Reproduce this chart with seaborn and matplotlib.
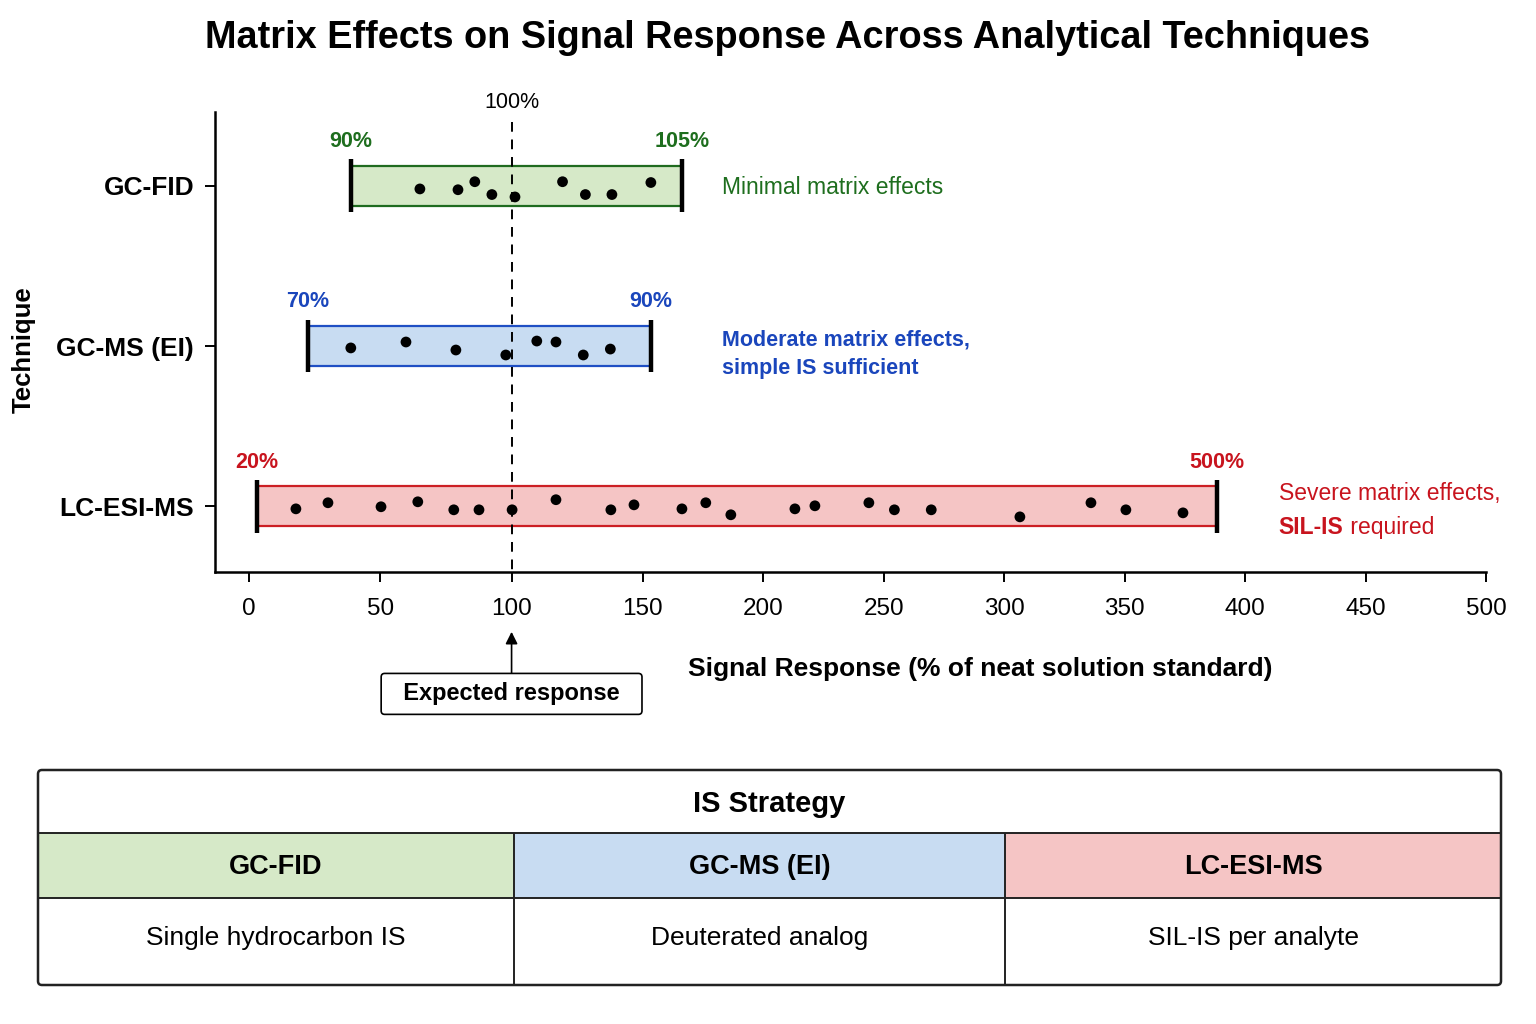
import numpy as np
import pandas as pd
import matplotlib
matplotlib.use("Agg")
import matplotlib.pyplot as plt
import seaborn as sns
from matplotlib.patches import Rectangle, FancyBboxPatch
from matplotlib import font_manager

# ---------------- data ----------------
techniques = ["GC-FID", "GC-MS (EI)", "LC-ESI-MS"]
range_low = [38.8, 22.5, 3.0]
range_high = [166.2, 153.3, 388.3]
range_low_labels = ["90%", "70%", "20%"]
range_high_labels = ["105%", "90%", "500%"]
notes = ["Minimal matrix effects",
         "Moderate matrix effects,\nsimple IS sufficient",
         "Severe matrix effects,"]
note_bold_part = "SIL-IS"
note_rest_part = " required"

gcfid_points = [65.1, 79.6, 86.0, 92.5, 101.3, 119.4, 128.1, 138.2, 153.3]
gcfid_jitter = [0.02, 0.025, -0.025, 0.055, 0.07, -0.025, 0.055, 0.055, -0.02]
gcms_points = [38.8, 59.8, 78.8, 97.8, 109.6, 116.9, 127.3, 137.6]
gcms_jitter = [0.012, -0.025, 0.025, 0.056, -0.031, -0.025, 0.056, 0.019]
lcms_points = [17.9, 30.1, 50.3, 64.3, 78.0, 87.6, 100.2, 116.9, 137.8, 146.6, 166.2,
               176.1, 186.5, 213.1, 221.4, 243.8, 254.4, 269.7, 306.5, 336.0, 350.5, 374.2]
lcms_jitter = [0.016, -0.022, 0.003, -0.028, 0.022, 0.022, 0.022, -0.041, 0.022, -0.009, 0.016,
               -0.022, 0.053, 0.016, -0.003, -0.022, 0.022, 0.022, 0.066, -0.022, 0.022, 0.041]

expected_value = 100
expected_label = "100%"
x_ticks = [0, 50, 100, 150, 200, 250, 300, 350, 400, 450, 500]

table_title = "IS Strategy"
strategies = ["Single hydrocarbon IS", "Deuterated analog", "SIL-IS per analyte"]

# ---------------- style ----------------
fills = ["#d6e9c8", "#c8dcf2", "#f5c5c5"]
edges = ["#1f6b1f", "#1f4fc4", "#cc1f24"]
text_cols = ["#1e6e1e", "#1a46bc", "#c8141e"]

sns.set_theme(style="white")
avail = {f.name for f in font_manager.fontManager.ttflist}
fam = [f for f in ["Liberation Sans", "DejaVu Sans"] if f in avail]
plt.rcParams["font.family"] = fam
plt.rcParams["text.color"] = "black"
plt.rcParams["axes.labelcolor"] = "black"
plt.rcParams["xtick.color"] = "black"
plt.rcParams["ytick.color"] = "black"

fig = plt.figure(figsize=(15.36, 10.24), dpi=100)
ax = fig.add_axes([215 / 1536, 1 - 572 / 1024, (1486 - 215) / 1536, (572 - 112) / 1024])

# piecewise-linear x scale as in the reference
A = 131.33 / 50.0
B = 843.0 / 350.0
def fwd(x):
    x = np.asarray(x, dtype=float)
    return np.where(x <= 150, x * A, 150 * A + (x - 150) * B)
def inv(y):
    y = np.asarray(y, dtype=float)
    return np.where(y <= 150 * A, y / A, 150 + (y - 150 * A) / B)
ax.set_xscale("function", functions=(fwd, inv))

# range bars
for i in range(3):
    ax.barh(i, range_high[i] - range_low[i], left=range_low[i], height=0.25,
            color=fills[i], edgecolor=edges[i], linewidth=1.6, zorder=2)
    ax.vlines([range_low[i], range_high[i]], i - 0.165, i + 0.165,
              color="black", linewidth=3.2, zorder=4)
    ax.text(range_low[i], i - 0.275, range_low_labels[i], ha="center", va="center",
            color=text_cols[i], fontsize=15.5, fontweight="bold")
    ax.text(range_high[i], i - 0.275, range_high_labels[i], ha="center", va="center",
            color=text_cols[i], fontsize=15.5, fontweight="bold")

# points
pts = pd.DataFrame({
    "value": gcfid_points + gcms_points + lcms_points,
    "ypos": [0 + j for j in gcfid_jitter] + [1 + j for j in gcms_jitter] + [2 + j for j in lcms_jitter],
})
sns.scatterplot(data=pts, x="value", y="ypos", ax=ax, color="black", s=60,
                edgecolor="none", zorder=5, legend=False)

# dashed expected line
ax.vlines(expected_value, -0.40, 2.41, color="black", linestyle=(0, (5, 4)),
          linewidth=1.4, zorder=3)
ax.text(expected_value, -0.52, expected_label, ha="center", va="center",
        fontsize=15.5, color="black", clip_on=False)

# notes
note_x = [182.8, 182.8, 414.0]
ax.text(note_x[0], 0.01, notes[0], ha="left", va="center", color=text_cols[0], fontsize=16.5)
ax.text(note_x[1], 1.05, notes[1], ha="left", va="center", color=text_cols[1], fontsize=15.5,
        fontweight="bold", linespacing=1.5)
ax.text(note_x[2], 2 - 0.08, notes[2], ha="left", va="center", color=text_cols[2], fontsize=16.5)
t_b = ax.text(note_x[2], 2 + 0.13, note_bold_part, ha="left", va="center",
              color=text_cols[2], fontsize=16.5, fontweight="bold")
ax.annotate(note_rest_part, xy=(1, 0), xycoords=t_b, ha="left", va="bottom",
            color=text_cols[2], fontsize=16.5)

# axes
ax.set_xlim(-12.9, 500)
ax.set_ylim(2.41, -0.46)
ax.set_yticks(range(3))
ax.set_yticklabels(techniques, fontsize=19, fontweight="bold")
ax.set_xticks(x_ticks)
ax.set_xticklabels([str(v) for v in x_ticks], fontsize=17.5)
ax.tick_params(axis="both", direction="out", length=7, width=1.4, color="black",
               left=True, bottom=True)
ax.tick_params(axis="y", pad=8)
ax.tick_params(axis="x", pad=12)
sns.despine(ax=ax)
for s in ["left", "bottom"]:
    ax.spines[s].set_linewidth(1.8)
    ax.spines[s].set_color("black")
ax.set_xlabel("Signal Response (% of neat solution standard)", fontsize=19, fontweight="bold")
ax.xaxis.set_label_coords(0.602, -0.184)
ax.set_ylabel("Technique", fontsize=18.5, fontweight="bold")
ax.yaxis.set_label_coords(-0.141, 0.483)

# expected response callout
ax.annotate("  Expected response  ", xy=(expected_value, -0.13),
            xycoords=("data", "axes fraction"),
            xytext=(expected_value, -0.265), textcoords=("data", "axes fraction"),
            ha="center", va="center", fontsize=17, fontweight="bold",
            bbox=dict(boxstyle="round,pad=0.38,rounding_size=0.15", fc="white", ec="black", lw=1.2),
            arrowprops=dict(arrowstyle="-|>", color="black", lw=1.2, mutation_scale=18,
                            shrinkA=0, shrinkB=0))

# title
fig.text(0.5125, 1 - 38 / 1024, "Matrix Effects on Signal Response Across Analytical Techniques",
         ha="center", va="center", fontsize=27.3, fontweight="bold")

# ---------------- table ----------------
tx0, tx1, ty0, ty1 = 38, 1501, 770, 985
tax = fig.add_axes([tx0 / 1536, 1 - ty1 / 1024, (tx1 - tx0) / 1536, (ty1 - ty0) / 1024])
tax.set_xlim(tx0, tx1)
tax.set_ylim(ty1, ty0)
tax.axis("off")
col_edges = [38, 514, 1005, 1501]
row_edges = [770, 833, 898, 985]
for i in range(3):
    tax.add_patch(Rectangle((col_edges[i], row_edges[1]), col_edges[i + 1] - col_edges[i],
                            row_edges[2] - row_edges[1], facecolor=fills[i], edgecolor="none", zorder=1))
    cx = (col_edges[i] + col_edges[i + 1]) / 2
    tax.text(cx, (row_edges[1] + row_edges[2]) / 2 + 2, techniques[i], ha="center", va="center",
             fontsize=19.5, fontweight="bold", zorder=3)
    tax.text(cx, (row_edges[2] + row_edges[3]) / 2 - 4, strategies[i], ha="center", va="center",
             fontsize=19, zorder=3)
tax.text((tx0 + tx1) / 2, (row_edges[0] + row_edges[1]) / 2 + 2, table_title, ha="center", va="center",
         fontsize=21, fontweight="bold", zorder=3)
tax.hlines([row_edges[1], row_edges[2]], tx0, tx1, color="#222222", lw=1.4, zorder=2)
tax.vlines([col_edges[1], col_edges[2]], row_edges[1], row_edges[3], color="#222222", lw=1.4, zorder=2)
tax.add_patch(FancyBboxPatch((tx0, ty0), tx1 - tx0, ty1 - ty0,
                             boxstyle="round,pad=0,rounding_size=4", facecolor="none",
                             edgecolor="#222222", lw=1.8, zorder=4, clip_on=False))

fig.savefig("out.png", dpi=100)
